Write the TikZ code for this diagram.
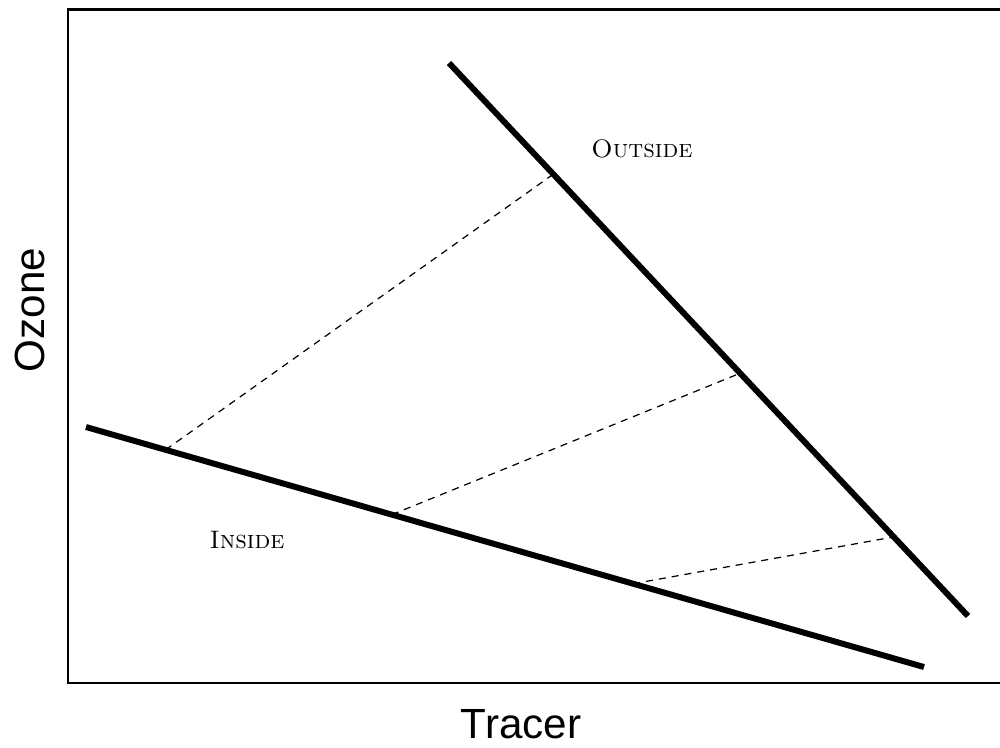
\documentclass[tikz,border=0pt]{standalone}
\usepackage{fontspec}
\usepackage{tikz}
\usetikzlibrary{calc}
\newfontfamily\axisfont{Liberation Sans}
\tikzset{
  boundary/.style={line width=1.7pt},
  mixing/.style={line width=0.35pt, dash pattern=on 2pt off 1.7pt},
  region/.style={font=\fontsize{7.2}{8}\selectfont, inner sep=0pt},
  axislabel/.style={font=\axisfont\fontsize{12}{14}\selectfont, inner sep=0pt}
}

\begin{document}
\begin{tikzpicture}[x=0.01cm, y=-0.01cm]
  \useasboundingbox (0,0) rectangle (1000,747);
  % plot frame, open on the right
  \draw[line width=0.6pt] (1000,9.5) -- (68,9.5) -- (68,683) -- (1000,683);
  % the two branches
  \coordinate (in0) at (86,427);
  \coordinate (in1) at (924,667);
  \coordinate (out0) at (449,63);
  \coordinate (out1) at (968,616);
  \draw[boundary] (in0) -- (in1);
  \draw[boundary] (out0) -- (out1);
  % mixing lines
  \draw[mixing] ($(in0)!0.095!(in1)$) -- ($(out0)!0.201!(out1)$);
  \draw[mixing] ($(in0)!0.365!(in1)$) -- ($(out0)!0.561!(out1)$);
  \draw[mixing] ($(in0)!0.653!(in1)$) -- ($(out0)!0.857!(out1)$);
  \node[region] (outlbl) at (642,149) {\textsc{Outside}};
  \node[region] (inlbl) at (247,540) {\textsc{Inside}};
  \node[axislabel] (xlbl) at (521,724) {Tracer};
  \node[axislabel, rotate=90] (ylbl) at (30,310) {Ozone};
\end{tikzpicture}
\end{document}
